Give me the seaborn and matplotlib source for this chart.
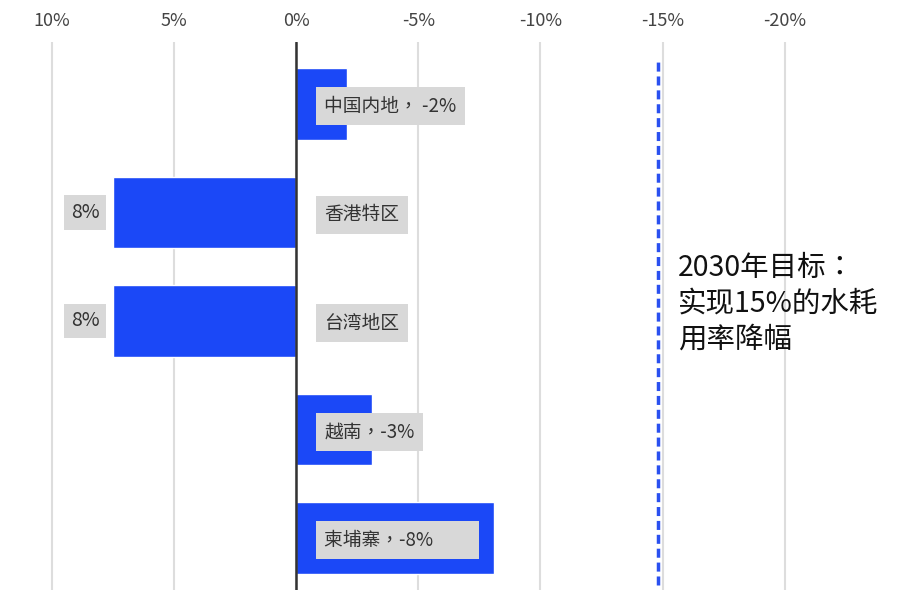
import numpy as np
import pandas as pd
import matplotlib.pyplot as plt
import seaborn as sns

# data
regions = ['中国内地', '香港特区', '台湾地区', '越南', '柬埔寨']
change = [-2.1, 7.5, 7.5, -3.1, -8.1]
name_labels = ['中国内地， -2%', '香港特区', '台湾地区', '越南，-3%', '柬埔寨，-8%　　']
value_labels = ['', '8%', '8%', '', '']
tick_vals = [10, 5, 0, -5, -10, -15, -20]
tick_text = ['10%', '5%', '0%', '-5%', '-10%', '-15%', '-20%']
target = -14.8
target_text = '2030年目标：\n实现15%的水耗\n用率降幅'

df = pd.DataFrame({'region': regions, 'change': change})

sns.set_style('white')
plt.rcParams['font.family'] = ['Noto Sans CJK TC', 'DejaVu Sans']

blue = '#1b48f7'
box_grey = '#d8d8d8'

fig = plt.figure(figsize=(9.07, 5.9), dpi=100)
ax = fig.add_axes([0.0301, 0.0, 0.9159, 0.9288])

for v in tick_vals:
    ax.axvline(v, color='#dddddd', lw=1.5, zorder=0)

sns.barplot(data=df, x='change', y='region', orient='h', color=blue,
            saturation=1, width=0.66, ax=ax, zorder=2)

ax.axvline(0, color='#333333', lw=1.8, zorder=3)
# dashed 2030 target line
ax.axvline(target, ymin=0.009, ymax=0.971, color='#2a50f0', lw=2.5,
           linestyle=(0, (2.6, 1.4)), zorder=3)

ax.set_xlim(11, -23)
ax.set_ylim(4.479, -0.571)

ax.xaxis.tick_top()
ax.set_xticks(tick_vals)
ax.set_xticklabels(tick_text)
ax.tick_params(axis='x', length=0, pad=9, labelsize=13, labelcolor='#444444')
ax.set_yticks([])
ax.set_xlabel('')
ax.set_ylabel('')
for s in ax.spines.values():
    s.set_visible(False)

# label boxes
for i, (txt, val) in enumerate(zip(name_labels, value_labels)):
    ax.text(-1.15, i + 0.02, txt, ha='left', va='center', fontsize=13.5,
            color='#333333', zorder=5,
            bbox=dict(boxstyle='square,pad=0.45', fc=box_grey, ec='none'))
    if val:
        ax.text(change[i] + 0.55, i, val, ha='right', va='center', fontsize=14,
                color='#333333', zorder=5,
                bbox=dict(boxstyle='square,pad=0.35', fc=box_grey, ec='none'))

ax.text(-15.64, 1.84, target_text, ha='left', va='center', fontsize=20.5,
        color='#111111', linespacing=1.25, zorder=5)

fig.savefig('out.png', dpi=100)
